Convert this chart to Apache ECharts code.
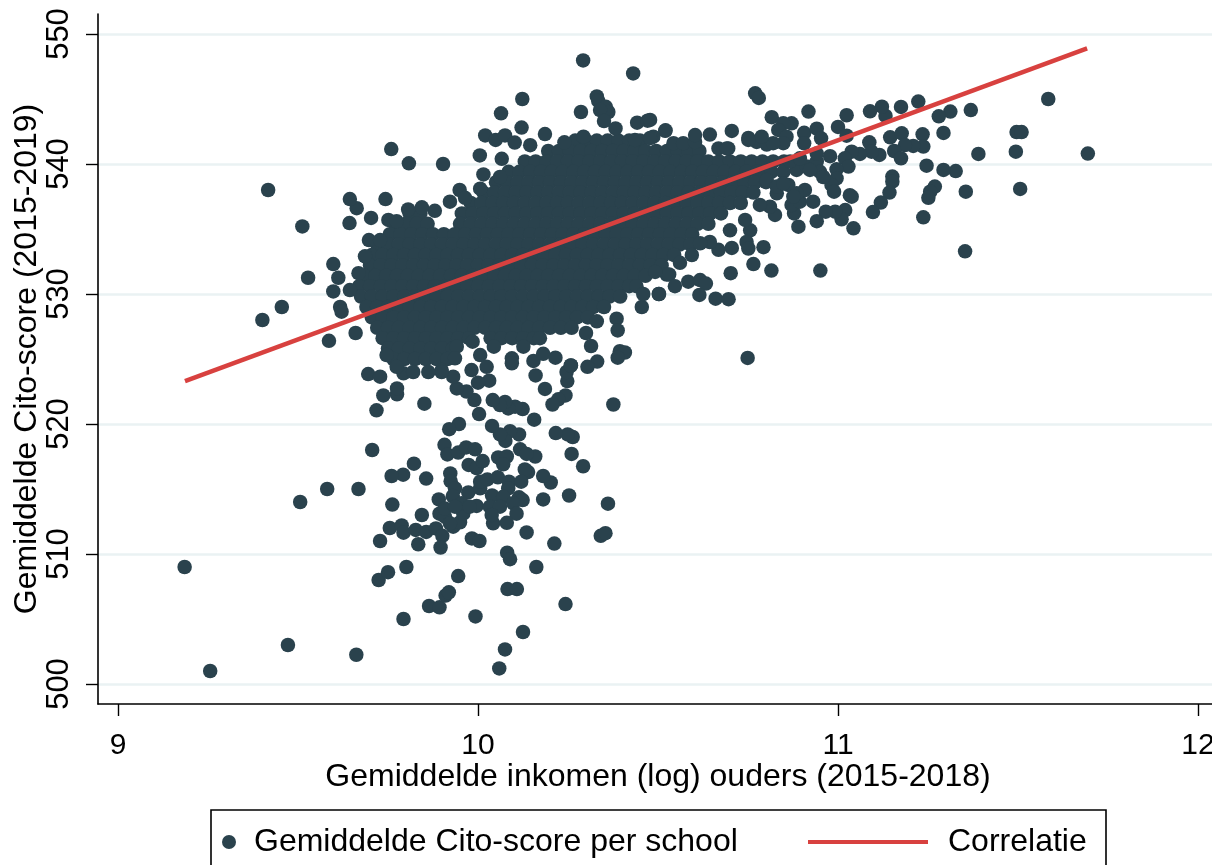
<!DOCTYPE html>
<html><head><meta charset="utf-8">
<script src="https://cdn.jsdelivr.net/npm/echarts@6/dist/echarts.min.js"></script>
<style>html,body{margin:0;padding:0;background:#fff;overflow:hidden}#c{width:1212px;height:865px}</style>
</head><body><div id="c"></div>
<script>
const scatterName = 'Gemiddelde Cito-score per school';
const lineName = 'Correlatie';
const xTitle = 'Gemiddelde inkomen (log) ouders (2015-2018)';
const yTitle = 'Gemiddelde Cito-score (2015-2019)';
const xTicks = [9, 10, 11, 12];
const yTicks = [500, 510, 520, 530, 540, 550];

// Correlation line end points
const lineIncome = [9.186, 11.692];
const lineScore = [523.3, 548.9];

// Individually legible schools: lower tail
const lowerTail = [[9.185,509],[9.256,501],[9.472,503],[9.662,502.25],[10.059,501.2],[10.075,502.66],[10.125,504],[10.243,506.15],[9.993,505.2],[9.793,505],[9.864,506],[9.893,505.9],[9.91,506.8],[9.919,507.05],[9.945,508.3],[9.724,508],[9.75,508.6],[9.801,509],[10.082,507.3],[10.108,507.3],[10.162,509],[10.081,510.1],[10.089,509.6],[10.212,510.8],[10.135,511.66],[10.341,511.4],[10.354,511.6],[10.361,513.87],[10.253,514.5],[10.181,514.2],[10.292,516.75],[10.26,517.7],[10.202,515.5],[10.181,516],[10.139,516.3],[10.13,516.5],[10.159,517.5],[10.117,518.05],[10.135,517.7],[10.263,519],[10.249,519.2],[10.216,519.3],[10.114,519.2],[10.089,519.45],[10.076,518.7],[10.061,519.2],[10.039,519.85],[10.156,520.33],[10.003,520.76],[10.124,521.15],[10.103,521.33],[10.084,521.2],[10.075,521.7],[10.061,521.46],[10.041,521.84],[9.99,521.84],[9.968,522.5],[9.941,522.74],[9.931,523.64],[9.899,524.15],[10.031,523.33],[10,523.18],[10.186,522.7],[10.16,523.74],[10.243,522.2],[10.223,521.9],[10.207,521.5],[10.248,523.3],[10.246,524],[10.258,524.5],[10.376,521.5],[9.851,521.56],[9.718,521.05],[9.737,522.2],[9.775,522.28],[9.775,522.74],[9.695,523.84],[9.728,523.64],[9.793,523.9],[9.82,524],[9.947,520],[9.92,519.6],[9.706,518],[9.907,518.4],[9.915,517.66],[9.945,517.8],[9.967,518.2],[9.992,518.05],[9.974,516.85],[9.996,516.6],[10.013,517.15],[10.056,517.43],[10.08,517.5],[10.07,516.9],[9.822,516.95],[9.792,516.1],[9.76,516],[9.856,515.8],[9.923,516.2],[9.924,515.6],[9.936,515.05],[9.93,514.46],[9.891,514.2],[9.973,514.74],[10.006,515.05],[10.006,515.56],[10.026,515.74],[10.055,515.9],[10.086,515.56],[10.12,515.56],[10.084,515.05],[10.039,514.5],[10.07,514.4],[10.114,514.36],[10.124,514.15],[9.581,515],[9.668,515],[9.506,514],[9.762,513.8],[9.844,513],[9.755,512],[9.788,512.2],[9.793,511.64],[9.827,511.85],[9.856,511.7],[9.883,511.97],[9.901,511.4],[9.896,510.5],[9.834,510.75],[9.728,511],[9.983,511.2],[10.004,511],[9.893,513.1],[9.908,512.87],[9.931,512.1],[9.95,512.44],[9.959,513.1],[9.955,513.9],[9.996,513.7],[10.033,513.64],[10.061,513.64],[10.098,513.9],[10.107,513.1],[10.042,512.36],[10.08,512.4],[10.038,513],[9.922,512.36],[9.908,513.5],[9.936,513.64],[9.977,513.64]];

// Individually legible schools: left and upper edge of the cloud
const upperLeftEdge = [[9.586,526.4],[9.66,527],[9.401,528],[9.455,529],[9.528,531.25],[9.598,532.3],[9.612,531.25],[9.598,530.2],[9.644,530.3],[9.617,529],[9.621,528.64],[9.668,531.6],[9.686,532.9],[9.697,534.15],[9.728,534.15],[9.512,535.2],[9.643,535.46],[9.703,535.85],[9.663,536.6],[9.644,537.3],[9.743,537.3],[9.417,538],[9.759,541.15],[9.808,540.05],[9.903,540],[10.005,540.66],[10.02,542.2],[10.049,541.85],[10.075,542.2],[10.102,541.65],[10.064,543.9],[10.123,545],[10.121,542.8],[10.186,542.3],[10.145,541.45],[10.24,541.67],[10.292,547.97],[10.431,546.97],[10.286,544],[10.33,545.2],[10.334,544.85],[10.355,544.4],[10.362,544],[10.339,544.15],[10.35,543.3],[10.382,542.74],[10.442,543.18],[10.471,543.33],[10.52,542.55],[10.436,541.85],[10.487,542.1],[10.293,542.1],[10.066,540.4],[10.015,539.2],[10.061,539],[10.006,538.1],[9.949,538],[9.964,537.4],[9.922,537.1],[9.88,536.4],[9.844,536.67],[9.806,536.5],[9.751,535.7],[9.774,535.6],[10.478,542],[10.543,541.6],[10.57,541.6],[10.603,541.7],[10.668,541.2],[10.695,541.2],[10.751,542],[10.774,541.7],[10.802,541.5]];

// Individually legible schools: underside of the cloud
const lowerEdge = [[10.33,527.9],[10.3,527],[10.314,526],[10.385,528.1],[10.388,527.2],[10.455,529],[10.502,530],[10.459,530],[10.524,531.5],[10.394,525.6],[10.408,525.5],[10.388,525.1],[10.331,524.8],[10.304,524.4],[10.258,524.5],[10.215,525.1],[10.154,524.85],[10.094,525.05],[10.094,524.67],[10.044,525.95],[9.985,526.33],[9.941,525.95],[9.936,525.05],[10.006,525.3],[10.024,524.4],[9.982,524.15],[10.181,525.4],[10.126,525.95],[10.172,526.6],[9.899,524],[9.862,524],[9.774,524.4],[9.746,525.3]];

// Individually legible schools: right-hand tail
const rightTail = [[11.584,545],[11.694,540.8],[11.494,540.95],[11.496,542.46],[11.51,542.46],[11.506,538.08],[11.39,540.77],[11.369,544.15],[11.355,537.87],[11.353,533.28],[11.312,544.03],[11.28,543.67],[11.293,542.39],[11.327,539.46],[11.293,539.54],[11.246,539.87],[11.269,538.26],[11.256,537.87],[11.251,537.4],[11.237,535.9],[11.223,544.8],[11.175,544.39],[11.132,543.7],[11.122,544.41],[11.089,544.05],[11.024,543.75],[11,542.85],[11.024,542.18],[10.918,544.03],[10.816,543.6],[10.77,545.44],[10.78,545.08],[10.705,542.54],[10.644,542.26],[10.603,542.23],[10.521,542.59],[10.478,543.39],[10.871,543.13],[10.848,543.13],[10.834,542.62],[10.906,542.4],[10.941,542.72],[10.953,541.98],[10.906,541.59],[10.857,542.1],[11.145,542.05],[11.177,542.36],[11.235,542.28],[11.237,541.34],[11.209,541.39],[11.186,541.46],[11.087,541.67],[11.115,540.7],[11.093,540.95],[11.061,540.77],[11.038,540.95],[11.019,540.44],[11.029,539.8],[10.996,539.59],[10.996,538.9],[10.982,538.39],[10.989,537.87],[11.156,541],[11.175,540.44],[11.151,539.03],[11.151,538.64],[11.143,537.8],[11.119,537.03],[11.097,536.3],[11.033,537.6],[11.038,537.49],[11.02,536.46],[11.01,535.75],[11.043,535.05],[10.992,536.33],[10.966,536.33],[10.941,535.6],[10.89,535.18],[10.878,536.2],[10.871,536.85],[10.894,537.1],[10.931,537.1],[10.908,538],[10.885,537.75],[10.862,538.39],[10.83,537.75],[10.825,536.08],[10.811,536.72],[10.783,536.85],[10.756,534.9],[10.742,535.7],[10.7,534.9],[10.746,534],[10.751,533.5],[10.793,533.6],[10.705,533.54],[10.668,533.4],[10.644,534],[10.617,533.9],[10.594,533],[10.561,532.4],[10.765,532.3],[10.815,531.8],[10.951,531.8],[10.702,531.6],[10.531,531.5],[10.547,530.6],[10.584,530.95],[10.617,531.07],[10.633,530.8],[10.615,529.93],[10.66,529.64],[10.696,529.6],[10.503,530],[10.749,525.08],[10.492,531.7],[10.885,539.54],[10.913,539.8],[10.941,540.2],[10.978,540.6],[10.95,539.4],[10.959,539],[10.922,539.54],[10.848,539.4],[10.802,538.77],[10.83,538.26],[10.848,538.5],[10.876,537.5],[10.867,540.2],[10.894,540.44],[10.941,540.8],[10.848,541.6],[10.82,541.6],[10.788,542.1],[10.751,541.85],[10.691,541.2]];

// The core of the cloud is a solid mass in the picture: single schools cannot be
// read there. These hand-entered rows are estimates that reproduce its extent,
// grouped by score: [score, incomes...].
const coreRows = [
[541.8,10.27,10.30,10.33,10.36,10.39,10.42,10.45],
[541.0,10.195,10.225,10.255,10.285,10.315,10.345,10.375,10.405,10.435,10.465,10.495,10.525,10.555,10.585,10.615],
[540.2,10.13,10.16,10.19,10.22,10.25,10.28,10.31,10.34,10.37,10.40,10.43,10.46,10.49,10.52,10.55,10.58,10.61,10.64,10.67,10.70,10.73,10.76,10.79,10.82,10.85],
[539.4,10.085,10.115,10.145,10.175,10.205,10.235,10.265,10.295,10.325,10.355,10.385,10.415,10.445,10.475,10.505,10.535,10.565,10.595,10.625,10.655,10.685,10.715,10.745,10.775,10.805,10.815],
[538.6,10.05,10.08,10.11,10.14,10.17,10.20,10.23,10.26,10.29,10.32,10.35,10.38,10.41,10.44,10.47,10.50,10.53,10.56,10.59,10.62,10.65,10.68,10.71,10.74,10.77,10.80],
[537.8,10.015,10.045,10.075,10.105,10.135,10.165,10.195,10.225,10.255,10.285,10.315,10.345,10.375,10.405,10.435,10.465,10.495,10.525,10.555,10.585,10.615,10.645,10.675,10.705,10.735,10.765],
[537.0,9.98,10.01,10.04,10.07,10.10,10.13,10.16,10.19,10.22,10.25,10.28,10.31,10.34,10.37,10.40,10.43,10.46,10.49,10.52,10.55,10.58,10.61,10.64,10.67,10.70,10.73],
[536.2,9.81,9.84,9.955,9.985,10.015,10.045,10.075,10.105,10.135,10.165,10.195,10.225,10.255,10.285,10.315,10.345,10.375,10.405,10.435,10.465,10.495,10.525,10.555,10.585,10.615,10.645,10.675],
[535.4,9.77,9.80,9.83,9.86,9.95,9.98,10.01,10.04,10.07,10.10,10.13,10.16,10.19,10.22,10.25,10.28,10.31,10.34,10.37,10.40,10.43,10.46,10.49,10.52,10.55,10.58,10.61,10.64],
[534.6,9.755,9.785,9.815,9.845,9.875,9.905,9.935,9.965,9.995,10.025,10.055,10.085,10.115,10.145,10.175,10.205,10.235,10.265,10.295,10.325,10.355,10.385,10.415,10.445,10.475,10.505,10.535,10.565,10.595],
[533.8,9.72,9.75,9.78,9.81,9.84,9.87,9.90,9.93,9.96,9.99,10.02,10.05,10.08,10.11,10.14,10.17,10.20,10.23,10.26,10.29,10.32,10.35,10.38,10.41,10.44,10.47,10.50,10.53,10.56,10.59],
[533.0,9.705,9.735,9.765,9.795,9.825,9.855,9.885,9.915,9.945,9.975,10.005,10.035,10.065,10.095,10.125,10.155,10.185,10.215,10.245,10.275,10.305,10.335,10.365,10.395,10.425,10.455,10.485,10.515,10.545],
[532.2,9.70,9.73,9.76,9.79,9.82,9.85,9.88,9.91,9.94,9.97,10.00,10.03,10.06,10.09,10.12,10.15,10.18,10.21,10.24,10.27,10.30,10.33,10.36,10.39,10.42,10.45,10.48,10.51],
[531.4,9.685,9.715,9.745,9.775,9.805,9.835,9.865,9.895,9.925,9.955,9.985,10.015,10.045,10.075,10.105,10.135,10.165,10.195,10.225,10.255,10.285,10.315,10.345,10.375,10.405,10.435,10.465],
[530.6,9.67,9.70,9.73,9.76,9.79,9.82,9.85,9.88,9.91,9.94,9.97,10.00,10.03,10.06,10.09,10.12,10.15,10.18,10.21,10.24,10.27,10.30,10.33,10.36,10.39,10.42,10.44],
[529.8,9.675,9.705,9.735,9.765,9.795,9.825,9.855,9.885,9.915,9.945,9.975,10.005,10.035,10.065,10.095,10.125,10.155,10.185,10.215,10.245,10.275,10.305,10.335,10.365,10.395],
[529.0,9.69,9.72,9.75,9.78,9.81,9.84,9.87,9.90,9.93,9.96,9.99,10.02,10.05,10.08,10.11,10.14,10.17,10.20,10.23,10.26,10.29,10.32,10.35],
[528.2,9.705,9.735,9.765,9.795,9.825,9.855,9.885,9.915,9.945,9.975,10.005,10.035,10.065,10.095,10.125,10.155,10.185,10.215,10.245,10.275,10.305],
[527.4,9.72,9.75,9.78,9.81,9.84,9.87,9.90,9.93,9.96,9.99,10.02,10.05,10.08,10.11,10.14,10.17,10.20,10.23,10.26],
[526.6,9.735,9.765,9.795,9.825,9.855,9.885,9.915,9.945,9.975,10.035,10.065,10.095,10.125,10.155],
[525.8,9.75,9.78,9.81,9.84,9.87,9.90,9.93],
[525.0,9.765,9.795,9.825,9.855,9.885,9.915]
];

const corePoints = coreRows.flatMap(r => r.slice(1).map(x => [x, r[0]]));
const points = [...corePoints, ...lowerTail, ...upperLeftEdge, ...lowerEdge, ...rightTail];
const linePoints = lineIncome.map((x, i) => [x, lineScore[i]]);

const FONT = '"Liberation Sans", Arial, sans-serif';
const DOT = '#2a424d', RED = '#d8413f', GRID = '#eaf2f3', INK = '#000';
const chart = echarts.init(document.getElementById('c'), null, {renderer: 'canvas'});
chart.setOption({
  animation: false,
  backgroundColor: '#fff',
  grid: {left: 98, top: 14, width: 1114, height: 690, containLabel: false, outerBoundsMode: 'none'},
  xAxis: {
    type: 'value', min: 8.9444, max: 12.0389,
    name: xTitle, nameLocation: 'middle', nameGap: 57, nameMoveOverlap: false,
    nameTextStyle: {fontFamily: FONT, fontSize: 32, color: INK, padding: [0, 0, 0, 6]},
    axisLine: {show: true, onZero: false, lineStyle: {color: INK, width: 1.6}},
    axisTick: {show: true, length: 12, customValues: xTicks, lineStyle: {color: INK, width: 1.4}},
    axisLabel: {customValues: xTicks, margin: 27, fontFamily: FONT, fontSize: 30, color: INK, hideOverlap: false, showMinLabel: true, showMaxLabel: true},
    splitLine: {show: false}
  },
  yAxis: {
    type: 'value', min: 498.4615, max: 551.5385,
    name: yTitle, nameLocation: 'middle', nameGap: 55, nameMoveOverlap: false,
    nameTextStyle: {fontFamily: FONT, fontSize: 32, color: INK},
    axisLine: {show: true, onZero: false, lineStyle: {color: INK, width: 1.6}},
    axisTick: {show: true, length: 12, customValues: yTicks, lineStyle: {color: INK, width: 1.4}},
    axisLabel: {customValues: yTicks, rotate: 90, margin: 23, fontFamily: FONT, fontSize: 31, color: INK},
    splitLine: {show: true, customValues: yTicks, lineStyle: {color: GRID, width: 2.5}}
  },
  legend: [
    {data: [{name: scatterName, icon: 'circle'}], left: 222, top: 826, itemWidth: 14, itemHeight: 14, padding: 0, selectedMode: false,
     textStyle: {fontFamily: FONT, fontSize: 32, color: INK, padding: [0, 0, 0, 13]}},
    {data: [{name: lineName, icon: 'rect'}], left: 808, top: 826, itemWidth: 120, itemHeight: 4, padding: 0, selectedMode: false,
     textStyle: {fontFamily: FONT, fontSize: 32, color: INK, padding: [0, 0, 0, 15]}}
  ],
  graphic: [{type: 'rect', z: 1, silent: true, shape: {x: 211, y: 810, width: 895, height: 80},
    style: {fill: '#fff', stroke: INK, lineWidth: 1.6}}],
  series: [
    {name: scatterName, type: 'scatter', data: points, symbol: 'circle', symbolSize: 14.5, itemStyle: {color: DOT, opacity: 1}, z: 3, large: false},
    {name: lineName, type: 'line', data: linePoints, symbol: 'none', showSymbol: false, lineStyle: {color: RED, width: 4.5}, itemStyle: {color: RED}, z: 4}
  ]
});
</script></body></html>
